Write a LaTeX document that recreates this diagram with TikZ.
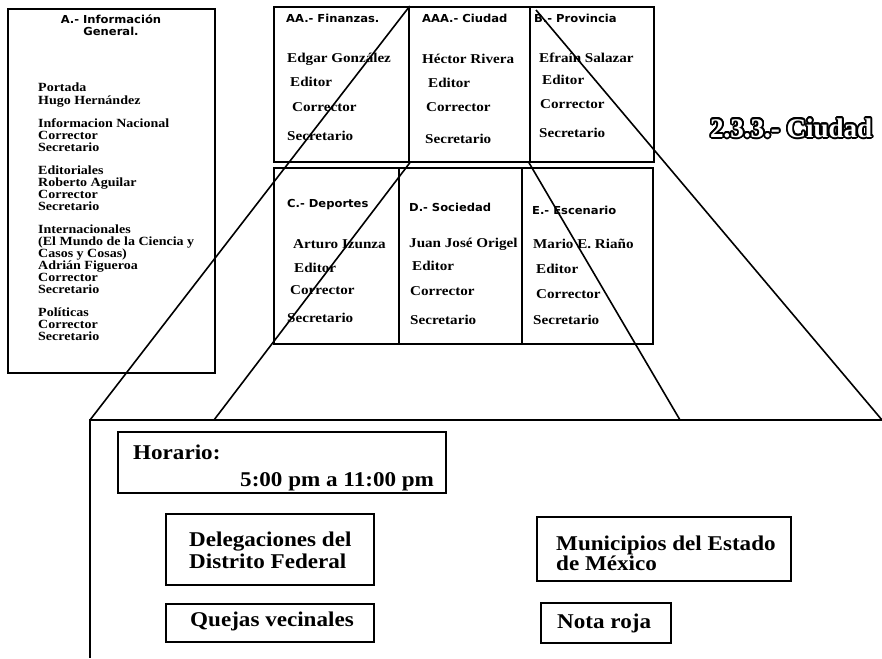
\documentclass[tikz,border=0pt]{standalone}
\usepackage{fontspec}
\usepackage{contour}
\usetikzlibrary{calc}
\setmainfont{Liberation Serif}
\newfontfamily\hdrfont{DejaVu Sans}[FakeStretch=1.05]
\newfontfamily\nmfont{Liberation Serif}[FakeStretch=1.12]
\newfontfamily\bigfont{Liberation Serif}[FakeStretch=1.1]
\contourlength{1.7pt}
\contournumber{24}
\begin{document}
\begin{tikzpicture}[x=1pt,y=-1pt,
  box/.style={draw, line width=1.8pt, inner sep=0pt, anchor=north west},
  zline/.style={line width=1.6pt},
  hdr/.style={anchor=west, inner sep=0pt, font=\hdrfont\bfseries\fontsize{11}{11.5}\selectfont},
  nm/.style={anchor=west, inner sep=0pt, font=\nmfont\bfseries\fontsize{13.5}{14}\selectfont},
  lline/.style={anchor=base west, inner sep=0pt, font=\nmfont\bfseries\fontsize{12.5}{12}\selectfont},
  bigtxt/.style={anchor=base west, inner sep=0pt, font=\bigfont\bfseries\fontsize{21}{22}\selectfont},
  wbox/.style={draw, line width=1.6pt, inner sep=0pt, anchor=north west},
  ttl/.style={anchor=west, inner sep=0pt, text=white, font=\bfseries\fontsize{27}{29}\selectfont}
]
\useasboundingbox (0,0) rectangle (882,658);

% ---- left box ----
\node[box, minimum width=207pt, minimum height=364pt] (lbox) at (7,8) {};
\node[anchor=north, inner sep=0pt, align=center, font=\hdrfont\bfseries\fontsize{11}{11.5}\selectfont] (ltitle) at (111,15) {A.- Información\\General.};
\node[lline] (l1) at (38,92) {Portada};
\node[lline] (l2) at (38,104) {Hugo Hernández};
\node[lline] (l3) at (38,127) {Informacion Nacional};
\node[lline] (l4) at (38,139) {Corrector};
\node[lline] (l5) at (38,151) {Secretario};
\node[lline] (l6) at (38,174) {Editoriales};
\node[lline] (l7) at (38,186) {Roberto Aguilar};
\node[lline] (l8) at (38,198) {Corrector};
\node[lline] (l9) at (38,210) {Secretario};
\node[lline] (l10) at (38,233) {Internacionales};
\node[lline] (l11) at (38,245) {(El Mundo de la Ciencia y};
\node[lline] (l12) at (38,257) {Casos y Cosas)};
\node[lline] (l13) at (38,269) {Adrián Figueroa};
\node[lline] (l14) at (38,281) {Corrector};
\node[lline] (l15) at (38,293) {Secretario};
\node[lline] (l16) at (38,316) {Políticas};
\node[lline] (l17) at (38,328) {Corrector};
\node[lline] (l18) at (38,340) {Secretario};

% ---- top row ----
\node[box, minimum width=135pt, minimum height=155pt] (fin) at (273,6) {};
\node[box, minimum width=121pt, minimum height=155pt] (ciu) at (408,6) {};
\node[box, minimum width=124pt, minimum height=155pt] (prov) at (529,6) {};

\node[hdr] (finh) at (286,18) {AA.- Finanzas.};
\node[nm] (fin1) at (287,59) {Edgar González};
\node[nm] (fin2) at (290,82) {Editor};
\node[nm] (fin3) at (292,107) {Corrector};
\node[nm] (fin4) at (287,136) {Secretario};

\node[hdr] (ciuh) at (422,18) {AAA.- Ciudad};
\node[nm] (ciu1) at (422,59) {Héctor Rivera};
\node[nm] (ciu2) at (428,83) {Editor};
\node[nm] (ciu3) at (426,107) {Corrector};
\node[nm] (ciu4) at (425,139) {Secretario};

\node[hdr] (provh) at (534,18) {B.- Provincia};
\node[nm] (prov1) at (539,58) {Efraín Salazar};
\node[nm] (prov2) at (542,80) {Editor};
\node[nm] (prov3) at (540,104) {Corrector};
\node[nm] (prov4) at (539,133) {Secretario};

% ---- bottom row ----
\node[box, minimum width=125pt, minimum height=176pt] (dep) at (273,167) {};
\node[box, minimum width=123pt, minimum height=176pt] (soc) at (398,167) {};
\node[box, minimum width=131pt, minimum height=176pt] (esc) at (521,167) {};

\node[hdr] (deph) at (287,205) {C.- Deportes};
\node[nm] (dep1) at (293,244) {Arturo Izunza};
\node[nm] (dep2) at (294,268) {Editor};
\node[nm] (dep3) at (290,290) {Corrector};
\node[nm] (dep4) at (287,318) {Secretario};

\node[hdr] (soch) at (409,207) {D.- Sociedad};
\node[nm] (soc1) at (409,244) {Juan José Origel};
\node[nm] (soc2) at (412,266) {Editor};
\node[nm] (soc3) at (410,291) {Corrector};
\node[nm] (soc4) at (410,320) {Secretario};

\node[hdr] (esch) at (532,210) {E.- Escenario};
\node[nm] (esc1) at (533,244) {Mario E. Riaño};
\node[nm] (esc2) at (536,269) {Editor};
\node[nm] (esc3) at (536,294) {Corrector};
\node[nm] (esc4) at (533,320) {Secretario};

% ---- title (outlined) ----
\node[ttl] (title) at (710,129) {\contour{black}{2.3.3.- Ciudad}};

% ---- big lower box ----
\coordinate (bigNW) at (90,420);
\coordinate (bigNE) at (882,420);
\coordinate (bigSW) at (90,658);
\coordinate (bigT1) at (214,420);
\coordinate (bigT2) at (680,420);
\coordinate (pstart) at (536,10);
\draw[line width=1.9pt] (bigNE) -- (bigNW) -- (bigSW);

% ---- zoom lines ----
\draw[zline] (fin.north east) -- (bigNW);
\draw[zline] (fin.south east) -- (bigT1);
\draw[zline] (pstart) -- (bigNE);
\draw[zline] (prov.south west) -- (bigT2);

% ---- inner boxes ----
\node[wbox, minimum width=328pt, minimum height=61pt] (hor) at (117,431) {};
\node[bigtxt] (hor1) at (133,459) {Horario:};
\node[bigtxt] (hor2) at (240,486) {5:00 pm a 11:00 pm};

\node[wbox, minimum width=208pt, minimum height=71pt] (del) at (165,513) {};
\node[bigtxt] (delt1) at (189,546) {Delegaciones del};
\node[bigtxt] (delt2) at (189,568) {Distrito Federal};

\node[wbox, minimum width=208pt, minimum height=38pt] (que) at (165,603) {};
\node[bigtxt] (quet) at (190,626) {Quejas vecinales};

\node[wbox, minimum width=254pt, minimum height=64pt] (mun) at (536,516) {};
\node[bigtxt] (munt1) at (556,550) {Municipios del Estado};
\node[bigtxt] (munt2) at (556,570) {de México};

\node[wbox, minimum width=130pt, minimum height=40pt] (nota) at (540,602) {};
\node[bigtxt] (notat) at (557,628) {Nota roja};
\end{tikzpicture}
\end{document}
